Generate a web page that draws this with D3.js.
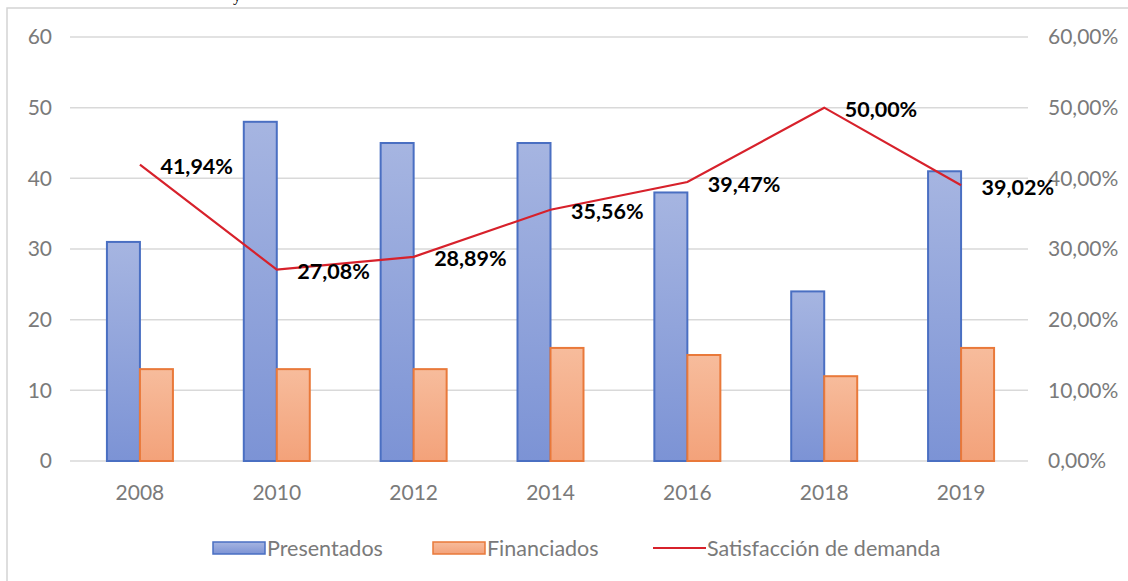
<!DOCTYPE html>
<html>
<head>
<meta charset="utf-8">
<script src="https://cdn.jsdelivr.net/npm/d3@7"></script>
<style>
  body { margin:0; background:#fff; }
  svg { display:block; font-family: Lato, "Open Sans", sans-serif; }
</style>
</head>
<body>
<div id="chart"></div>
<script>
// data
var years = ["2008","2010","2012","2014","2016","2018","2019"];
var presentados = [31, 48, 45, 45, 38, 24, 41];
var financiados = [13, 13, 13, 16, 15, 12, 16];
var satisfaccion = [41.94, 27.08, 28.89, 35.56, 39.47, 50.00, 39.02];
var leftTicks = [0, 10, 20, 30, 40, 50, 60];
var rightTicks = [0, 10, 20, 30, 40, 50, 60];
var seriesNames = ["Presentados", "Financiados", "Satisfacción de demanda"];

var w = 1128, h = 581;
var plotLeft = 70, plotRight = 1028, plotTop = 37, plotBottom = 461;

var svg = d3.select("#chart").append("svg")
    .attr("width", w)
    .attr("height", h);

var defs = svg.append("defs");
var gBlue = defs.append("linearGradient").attr("id", "gBlue")
    .attr("x1", 0).attr("y1", 0).attr("x2", 0).attr("y2", 1);
gBlue.append("stop").attr("offset", "0%").attr("stop-color", "#a6b5e1");
gBlue.append("stop").attr("offset", "100%").attr("stop-color", "#7c93d5");
var gOrange = defs.append("linearGradient").attr("id", "gOrange")
    .attr("x1", 0).attr("y1", 0).attr("x2", 0).attr("y2", 1);
gOrange.append("stop").attr("offset", "0%").attr("stop-color", "#f7bc9c");
gOrange.append("stop").attr("offset", "100%").attr("stop-color", "#f3a27a");

// frame of the chart area (cut on the right and bottom)
svg.append("rect")
    .attr("x", 7).attr("y", 8)
    .attr("width", 1140).attr("height", 600)
    .style("fill", "none")
    .style("stroke", "#d4d4d4")
    .style("stroke-width", 1.5);

// remnant of the caption above the chart
svg.append("text")
    .text("y")
    .attr("x", 233).attr("y", 1)
    .style("font-family", "Liberation Serif")
    .style("font-size", "16px")
    .style("fill", "#000");

var x = d3.scaleBand().domain(years).range([plotLeft, plotRight]);
var yLeft = d3.scaleLinear().domain([0, 60]).range([plotBottom, plotTop]);
var yRight = d3.scaleLinear().domain([0, 60]).range([plotBottom, plotTop]);

var pct = function(d){ return d3.format(".2f")(d).replace(".", ",") + "%"; };

// gridlines
svg.append("g").selectAll("line")
    .data(leftTicks)
    .enter().append("line")
    .attr("x1", plotLeft).attr("x2", plotRight)
    .attr("y1", function(d){ return yLeft(d); })
    .attr("y2", function(d){ return yLeft(d); })
    .style("stroke", "#d9d9d9")
    .style("stroke-width", 1.5);

// left axis
var leftAxis = svg.append("g")
    .attr("transform", "translate(" + 52 + ",0)")
    .call(d3.axisLeft(yLeft).tickValues(leftTicks).tickSize(0).tickPadding(0));
leftAxis.select(".domain").remove();
leftAxis.selectAll("text")
    .style("font-family", "Lato")
    .style("font-size", "21px")
    .style("fill", "#7a7a7a");

// right axis
var rightAxis = svg.append("g")
    .attr("transform", "translate(" + 1048 + ",0)")
    .call(d3.axisRight(yRight).tickValues(rightTicks).tickSize(0).tickPadding(0)
      .tickFormat(pct));
rightAxis.select(".domain").remove();
rightAxis.selectAll("text")
    .style("font-family", "Lato")
    .style("font-size", "21px")
    .style("fill", "#7a7a7a");

// x axis labels
var bottomAxis = svg.append("g")
    .attr("transform", "translate(1.5," + (plotBottom + 19) + ")")
    .call(d3.axisBottom(x).tickSize(0).tickPadding(0));
bottomAxis.select(".domain").remove();
bottomAxis.selectAll("text")
    .attr("dy", "0.95em")
    .style("font-family", "Lato")
    .style("font-size", "21px")
    .style("fill", "#7a7a7a");

var barW = 33;

// Presentados bars
svg.append("g").selectAll("rect")
    .data(presentados)
    .enter().append("rect")
    .attr("x", function(d, i){ return x(years[i]) + x.bandwidth()/2 + 1.5 - barW; })
    .attr("y", function(d){ return yLeft(d); })
    .attr("width", barW)
    .attr("height", function(d){ return plotBottom - yLeft(d); })
    .style("fill", "url(#gBlue)")
    .style("stroke", "#4a6fc2")
    .style("stroke-width", 2);

// Financiados bars
svg.append("g").selectAll("rect")
    .data(financiados)
    .enter().append("rect")
    .attr("x", function(d, i){ return x(years[i]) + x.bandwidth()/2 + 1.5; })
    .attr("y", function(d){ return yLeft(d); })
    .attr("width", barW)
    .attr("height", function(d){ return plotBottom - yLeft(d); })
    .style("fill", "url(#gOrange)")
    .style("stroke", "#e9793a")
    .style("stroke-width", 2);

// Satisfaccion line
var line = d3.line()
    .x(function(d, i){ return x(years[i]) + x.bandwidth()/2 + 1.5; })
    .y(function(d){ return yRight(d); });

svg.append("path")
    .datum(satisfaccion)
    .attr("d", line)
    .style("fill", "none")
    .style("stroke", "#d7212b")
    .style("stroke-width", 2.2);

// data labels
svg.append("g").selectAll("text")
    .data(satisfaccion)
    .enter().append("text")
    .text(pct)
    .attr("x", function(d, i){ return x(years[i]) + x.bandwidth()/2 + 22; })
    .attr("y", function(d){ return yRight(d) + 2; })
    .attr("dy", "0.35em")
    .style("font-family", "Lato")
    .style("font-weight", "bold")
    .style("font-size", "21.5px")
    .style("fill", "#000");

// legend
var legend = svg.append("g");
var legX = [213, 433, 653];
legend.append("rect")
    .attr("x", legX[0]).attr("y", 542).attr("width", 52).attr("height", 12)
    .style("fill", "url(#gBlue)").style("stroke", "#4a6fc2").style("stroke-width", 1.5);
legend.append("rect")
    .attr("x", legX[1]).attr("y", 542).attr("width", 52).attr("height", 12)
    .style("fill", "url(#gOrange)").style("stroke", "#e9793a").style("stroke-width", 1.5);
legend.append("line")
    .attr("x1", legX[2]).attr("x2", legX[2] + 53)
    .attr("y1", 548).attr("y2", 548)
    .style("stroke", "#d7212b").style("stroke-width", 2.2);

legend.selectAll(".legtext")
    .data(seriesNames)
    .enter().append("text")
    .attr("class", "legtext")
    .text(function(d){ return d; })
    .attr("x", function(d, i){ return legX[i] + 54; })
    .attr("y", 548)
    .attr("dy", "0.35em")
    .style("font-family", "Lato")
    .style("font-size", "21.5px")
    .style("fill", "#7a7a7a");
</script>
</body>
</html>
